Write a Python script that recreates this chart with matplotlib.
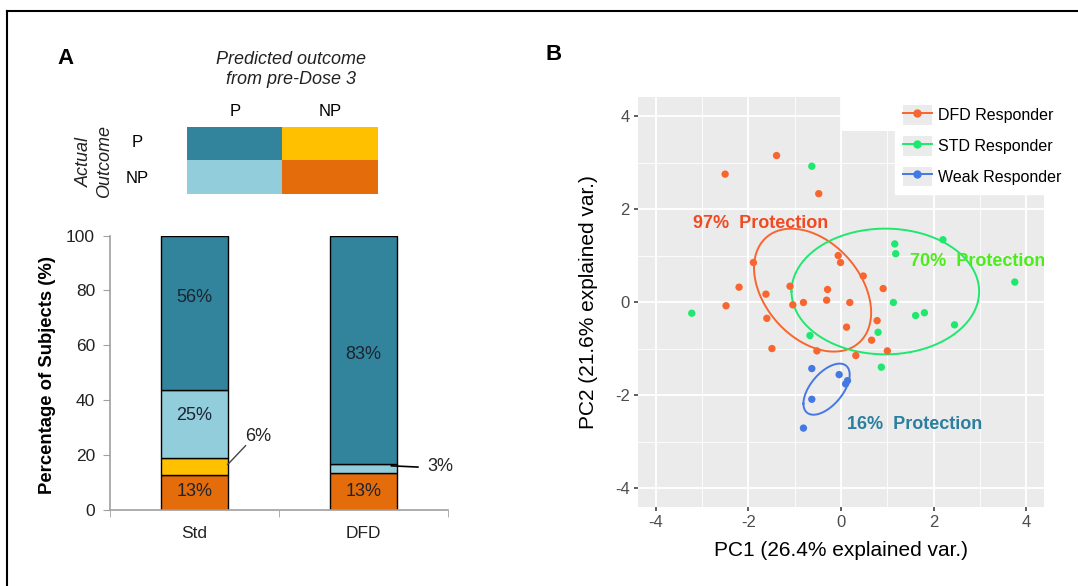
import numpy as np
import matplotlib
matplotlib.use("Agg")
import matplotlib.pyplot as plt
from matplotlib.colors import ListedColormap
from matplotlib.patches import Patch, Rectangle
from matplotlib.lines import Line2D

plt.rcParams['font.family'] = ['Liberation Sans', 'DejaVu Sans']

# ---------------- data ----------------
# Panel A: stacked bars (percent of subjects)
groups = ['Std', 'DFD']
pct_np_np = [12.5, 13.3]    # actual NP, predicted NP (orange)
pct_p_np = [6.25, 0.0]      # actual P, predicted NP (yellow)
pct_np_p = [25.0, 3.3]      # actual NP, predicted P (light blue)
pct_p_p = [56.25, 83.3]     # actual P, predicted P (teal)
lbl_np_np = ['13%', '13%']
lbl_p_np = ['6%', '']
lbl_np_p = ['25%', '3%']
lbl_p_p = ['56%', '83%']

heat_cols = ['P', 'NP']
heat_rows = ['P', 'NP']
heat_idx = [[0, 1], [2, 3]]

# Panel B: PCA scores
dfd_x = [-1.39, -2.50, -0.48, -1.89, -0.06, -0.01, 0.48, -2.20, -1.62, -1.10,
         -0.29, 0.91, -2.48, -1.04, -0.81, -0.31, 0.19, -1.60, 0.12, 0.78,
         0.66, -1.49, -0.52, 0.32, 1.00]
dfd_y = [3.15, 2.75, 2.33, 0.85, 1.00, 0.85, 0.56, 0.32, 0.17, 0.34,
         0.27, 0.29, -0.08, -0.06, -0.01, 0.04, -0.01, -0.35, -0.54, -0.40,
         -0.82, -1.00, -1.05, -1.15, -1.05]
std_x = [-0.63, 1.16, 1.18, 2.20, 3.75, -3.22, 1.13, 1.61, 1.80, 2.45, 0.80, -0.67, 0.87]
std_y = [2.92, 1.25, 1.04, 1.34, 0.43, -0.24, -0.01, -0.29, -0.23, -0.49, -0.65, -0.72, -1.40]
weak_x = [-0.63, -0.04, 0.14, 0.10, -0.63, -0.81]
weak_y = [-1.43, -1.56, -1.69, -1.76, -2.09, -2.71]
series_names = ['DFD Responder', 'STD Responder', 'Weak Responder']
protection = ['97%  Protection', '70%  Protection', '16%  Protection']
ellipse_prob = 0.5

# ---------------- style ----------------
W, H = 1078, 586
C_TEAL, C_YEL, C_LBLUE, C_ORG = '#31849B', '#FFC000', '#92CDDC', '#E46C0A'
C_DFD, C_STD, C_WEAK = '#F8652F', '#1EE86E', '#4678E4'
C_TXT = ['#F04A22', '#4CEB1C', '#2B7E9E']


def fx(px):
    return px / W


def fy(py):
    return 1 - py / H


fig = plt.figure(figsize=(W / 100, H / 100), dpi=100)

# frame lines
fig.add_artist(Line2D([fx(7), fx(7)], [0, fy(11)], color='black', lw=1.5, transform=fig.transFigure))
fig.add_artist(Line2D([fx(7), 1], [fy(11), fy(11)], color='black', lw=1.5, transform=fig.transFigure))

# panel letters
fig.text(fx(65.5), fy(58), 'A', fontsize=16, fontweight='bold', ha='center', va='center')
fig.text(fx(554), fy(55), 'B', fontsize=16, fontweight='bold', ha='center', va='center')

# ---------------- heat map legend ----------------
axh = fig.add_axes([fx(187.2), fy(194.3), fx(377.6 - 187.2), (194.3 - 127) / H])
axh.imshow(np.array(heat_idx), cmap=ListedColormap([C_TEAL, C_YEL, C_LBLUE, C_ORG]),
           aspect='auto', vmin=-0.5, vmax=3.5, interpolation='nearest')
axh.set_axis_off()
for j, c in enumerate(heat_cols):
    axh.text(j, -0.5 - 0.25, c, ha='center', va='bottom', fontsize=12)
row_px = [142, 178]
for r, ypx in zip(heat_rows, row_px):
    fig.text(fx(137.5), fy(ypx), r, ha='center', va='center', fontsize=12)
fig.text(fx(291.4), fy(69.5), 'Predicted outcome\nfrom pre-Dose 3', ha='center', va='center',
         fontsize=13, style='italic', linespacing=1.25, color='#222222')
fig.text(fx(94.8), fy(161.7), 'Actual\nOutcome', ha='center', va='center', rotation=90,
         fontsize=13, style='italic', linespacing=1.25, color='#222222')

# ---------------- stacked bars ----------------
axb = fig.add_axes([fx(110.3), fy(509.5), fx(447.6 - 110.3), (509.5 - 235.7) / H])
xpos = np.arange(len(groups))
bw = 0.4
segments = [(pct_np_np, C_ORG, lbl_np_np), (pct_p_np, C_YEL, lbl_p_np),
            (pct_np_p, C_LBLUE, lbl_np_p), (pct_p_p, C_TEAL, lbl_p_p)]
bottom = np.zeros(len(groups))
seg_bounds = []
for vals, col, lbls in segments:
    vals = np.array(vals)
    for i in range(len(groups)):
        if vals[i] > 0:
            axb.bar(xpos[i], vals[i], bw, bottom=bottom[i], color=col,
                    edgecolor='black', linewidth=1.0, zorder=2)
    seg_bounds.append((bottom.copy(), vals.copy(), lbls))
    bottom = bottom + vals

# inner labels (centre of segment plus a small visual shift like the original)
label_shift = {(0, 0): 0.2, (2, 0): 3.2, (3, 0): 5.6, (0, 1): -0.2, (3, 1): -1.6}
for k, (b, v, lbls) in enumerate(seg_bounds):
    for i in range(len(groups)):
        if (k, i) in label_shift:
            yc = b[i] + v[i] / 2 + label_shift[(k, i)]
            axb.text(xpos[i], yc, lbls[i], ha='center', va='center', fontsize=13,
                     color='#1c2430', zorder=3)
# leader-line labels for small segments
b, v, lbls = seg_bounds[1]
axb.plot([0.196, 0.302], [b[0] + v[0] / 2 + 0.8, 23.3], color='#444444', lw=1.0, zorder=4, clip_on=False)
axb.text(0.302, 26.6, lbls[0], ha='left', va='center', fontsize=13, color='#222222')
b, v, lbls = seg_bounds[2]
axb.plot([1.167, 1.324], [b[1] + v[1] / 2 + 1.0, 15.5], color='black', lw=1.2, zorder=4, clip_on=False)
axb.text(1.381, 15.6, lbls[1], ha='left', va='center', fontsize=13, color='#222222')

axb.set_xlim(-0.5, 1.5)
axb.set_ylim(0, 100)
axb.set_yticks(np.arange(0, 101, 20))
axb.set_xticks(xpos)
axb.set_xticklabels(groups, fontsize=12.5, color='#222222')
axb.set_xticks([-0.5, 0.5, 1.5], minor=True)
axb.tick_params(axis='x', which='major', length=0, pad=12)
axb.tick_params(axis='x', which='minor', length=5, color='#A0A0A0', direction='out')
axb.tick_params(axis='y', length=5, color='#A0A0A0', direction='out', labelsize=12.5,
                labelcolor='#222222', pad=6)
for s in ['top', 'right']:
    axb.spines[s].set_visible(False)
for s in ['left', 'bottom']:
    axb.spines[s].set_color('#A0A0A0')
    axb.spines[s].set_linewidth(1.2)
fig.text(fx(48), fy(374.5), 'Percentage of Subjects (%)', rotation=90, ha='center', va='center',
         fontsize=13.3, fontweight='bold')

# ---------------- PCA panel ----------------
axs = fig.add_axes([fx(638), fy(506.7), fx(1044 - 638), (506.7 - 97.4) / H])
axs.set_facecolor('#EBEBEB')
axs.set_xlim(-4.38, 4.38)
axs.set_ylim(-4.4, 4.4)
ticks = [-4, -2, 0, 2, 4]
axs.set_xticks(ticks)
axs.set_yticks(ticks)
axs.set_xticks([-3, -1, 1, 3], minor=True)
axs.set_yticks([-3, -1, 1, 3], minor=True)
axs.set_axisbelow(True)
axs.grid(which='major', color='white', lw=1.3)
axs.grid(which='minor', color='white', lw=0.6)
for s in axs.spines.values():
    s.set_visible(False)
axs.tick_params(which='major', length=3, width=1.1, color='#333333', labelsize=12,
                labelcolor='#4D4D4D', pad=3)
axs.tick_params(which='minor', length=0)
axs.set_xticklabels([str(t) for t in ticks])
axs.set_yticklabels([str(t) for t in ticks])

# white strip left by the legend box in the original
axs.add_patch(Rectangle((0, 3.68), 4.5, 1.0, facecolor='white', edgecolor='none', zorder=1))

theta = np.linspace(-np.pi, np.pi, 100)
circle = np.column_stack([np.cos(theta), np.sin(theta)])
ed = np.sqrt(-2 * np.log(1 - ellipse_prob))
series = [(dfd_x, dfd_y, C_DFD), (std_x, std_y, C_STD), (weak_x, weak_y, C_WEAK)]
for xs, ys, col in series:
    xs, ys = np.array(xs), np.array(ys)
    sigma = np.cov(np.vstack([xs, ys]))
    mu = np.array([xs.mean(), ys.mean()])
    R = np.linalg.cholesky(sigma).T
    ell = circle @ R * ed + mu
    axs.plot(ell[:, 0], ell[:, 1], color=col, lw=1.4, zorder=3)
for xs, ys, col in series:
    axs.scatter(xs, ys, s=28, color=col, edgecolors='none', zorder=4)

txt_pos = [(-1.73, 1.68), (2.95, 0.88), (1.58, -2.63)]
for (tx, ty), t, c in zip(txt_pos, protection, C_TXT):
    axs.text(tx, ty, t, color=c, fontsize=13, fontweight='bold', ha='center', va='center',
             zorder=5, clip_on=True)

fig.text(fx(841), fy(550), 'PC1 (26.4% explained var.)', ha='center', va='center', fontsize=15)
fig.text(fx(589), fy(302), 'PC2 (21.6% explained var.)', ha='center', va='center', fontsize=15,
         rotation=90)

handles = [(Patch(facecolor='#EBEBEB', edgecolor='none'),
            Line2D([], [], color=c, marker='o', markersize=5, lw=1.4)) for c in [C_DFD, C_STD, C_WEAK]]
leg = fig.legend(handles, series_names, loc='upper left', bbox_to_anchor=(fx(895), fy(97.4)),
                 frameon=True, facecolor='white', edgecolor='white', framealpha=1, fancybox=False,
                 fontsize=11.5, handlelength=1.8, handleheight=1.5, handletextpad=0.4,
                 labelspacing=0.7, borderpad=0.5, borderaxespad=0)

fig.savefig('out.png', dpi=100)
